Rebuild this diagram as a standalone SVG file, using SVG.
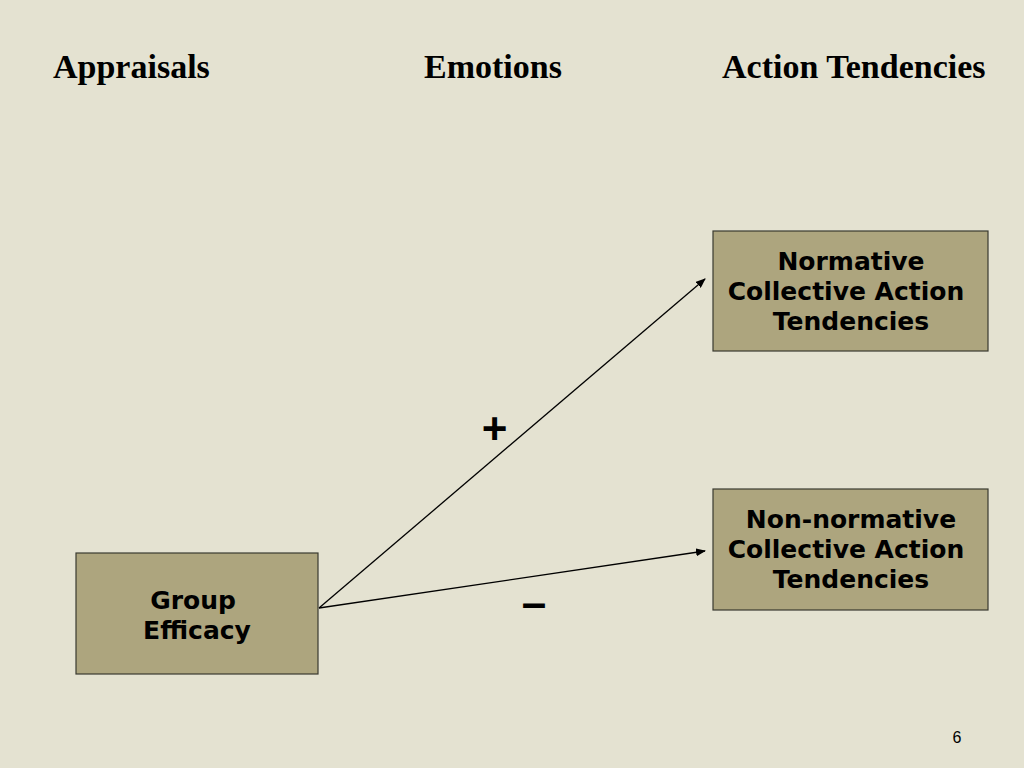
<svg xmlns="http://www.w3.org/2000/svg" width="1024" height="768" viewBox="0 0 1024 768">
<defs>
<marker id="ah" markerWidth="10" markerHeight="8" refX="9" refY="4" orient="auto" markerUnits="userSpaceOnUse">
<path d="M0,0 L10,4 L0,8 Z" fill="#000"/>
</marker>
<style>
.box{fill:#ADA57E;stroke:#3a3a30;stroke-width:1.2}
.lbl{font-family:"DejaVu Sans",Verdana,sans-serif;font-weight:bold;font-size:25px;fill:#000;text-anchor:middle}
.hdr{font-family:"Liberation Serif","Times New Roman",serif;font-weight:bold;font-size:34px;fill:#000}
.conn{stroke:#000;stroke-width:1.3;fill:none;marker-end:url(#ah)}
.sign{font-family:"Liberation Sans",Arial,sans-serif;font-weight:bold;font-size:44px;fill:#000;text-anchor:middle}
</style>
</defs>
<rect width="1024" height="768" fill="#E4E2D1"/>
<g id="headers">
<text class="hdr" x="53" y="78">Appraisals</text>
<text class="hdr" x="424" y="78">Emotions</text>
<text class="hdr" x="722" y="78">Action Tendencies</text>
</g>
<g id="connectors">
<line class="conn" x1="319" y1="608" x2="705" y2="279"/>
<line class="conn" x1="319" y1="608" x2="705" y2="551"/>
</g>
<g id="signs">
<text class="sign" x="494.5" y="444">+</text>
<text class="sign" x="534" y="618">–</text>
</g>
<g id="group-efficacy">
<rect class="box" x="76" y="553" width="242" height="121"/>
<text class="lbl" x="193" y="609">Group</text>
<text class="lbl" x="197" y="639">Efficacy</text>
</g>
<g id="normative">
<rect class="box" x="713" y="231" width="275" height="120"/>
<text class="lbl" x="851" y="270">Normative</text>
<text class="lbl" x="846" y="300">Collective Action</text>
<text class="lbl" x="851" y="330">Tendencies</text>
</g>
<g id="non-normative">
<rect class="box" x="713" y="489" width="275" height="121"/>
<text class="lbl" x="851" y="528">Non-normative</text>
<text class="lbl" x="846" y="558">Collective Action</text>
<text class="lbl" x="851" y="588">Tendencies</text>
</g>
<text x="957" y="743" font-family="Liberation Sans,Arial,sans-serif" font-size="16" text-anchor="middle" fill="#000">6</text>
</svg>
